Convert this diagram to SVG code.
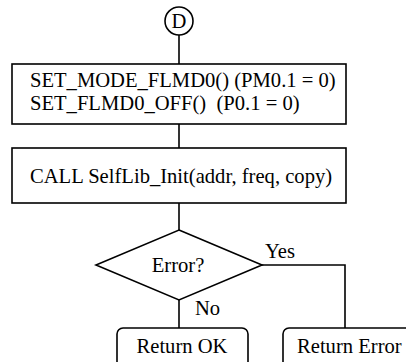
<svg xmlns="http://www.w3.org/2000/svg" width="406" height="362" viewBox="0 0 406 362">
  <style>
    .shape { fill: #ffffff; stroke: #000000; stroke-width: 1.6; }
    .wire { fill: none; stroke: #000000; stroke-width: 1.6; }
    text { font-family: "Liberation Serif", "Times New Roman", serif; font-size: 20.6px; fill: #000000; white-space: pre; }
  </style>
  <rect width="406" height="362" fill="#ffffff"/>

  <!-- connectors -->
  <g id="connectors">
    <line class="wire" x1="179" y1="35" x2="179" y2="64"/>
    <line class="wire" x1="179" y1="124" x2="179" y2="148"/>
    <line class="wire" x1="179" y1="203" x2="179" y2="230"/>
    <line class="wire" x1="179" y1="300" x2="179" y2="328"/>
    <polyline class="wire" points="262,265 345,265 345,328"/>
    <text x="265" y="258">Yes</text>
    <text x="195" y="315">No</text>
  </g>

  <!-- off-page connector D -->
  <g id="node-d">
    <circle class="shape" cx="179" cy="21" r="14"/>
    <text x="179" y="28" text-anchor="middle">D</text>
  </g>

  <!-- FLMD0 setup -->
  <g id="node-flmd0">
    <rect class="shape" x="12" y="64" width="334" height="60"/>
    <text x="30" y="87">SET_MODE_FLMD0() (PM0.1 = 0)</text>
    <text x="30" y="110" xml:space="preserve">SET_FLMD0_OFF()  (P0.1 = 0)</text>
  </g>

  <!-- library init call -->
  <g id="node-init">
    <rect class="shape" x="12" y="148" width="334" height="55"/>
    <text x="30" y="183">CALL SelfLib_Init(addr, freq, copy)</text>
  </g>

  <!-- error decision -->
  <g id="node-error">
    <polygon class="shape" points="179,230 262,265 179,300 96,265"/>
    <text x="178" y="272" text-anchor="middle">Error?</text>
  </g>

  <!-- terminals -->
  <g id="node-ok">
    <rect class="shape" x="117" y="328" width="131" height="50" rx="6" ry="6"/>
    <text x="182" y="353" text-anchor="middle">Return OK</text>
  </g>
  <g id="node-err">
    <rect class="shape" x="283" y="328" width="140" height="50" rx="6" ry="6"/>
    <text x="297" y="353">Return Error</text>
  </g>
</svg>
